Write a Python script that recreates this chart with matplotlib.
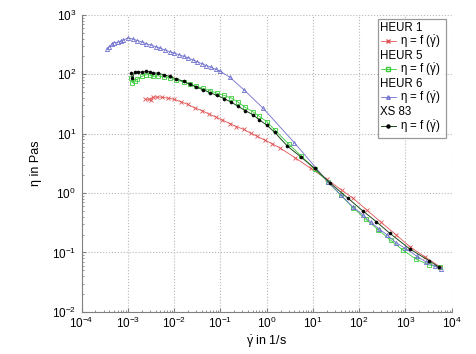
import matplotlib
matplotlib.use('Agg')
import matplotlib.pyplot as plt
from matplotlib.lines import Line2D
from matplotlib.ticker import LogLocator, NullFormatter

plt.rcParams['font.family'] = ['Liberation Sans', 'DejaVu Sans']
plt.rcParams['mathtext.fontset'] = 'custom'
plt.rcParams['mathtext.rm'] = 'Liberation Sans'
plt.rcParams['mathtext.it'] = 'Liberation Sans'
plt.rcParams['mathtext.default'] = 'regular'

# HEUR 1
x_heur1 = [0.0024, 0.0028, 0.0031, 0.0035, 0.0042, 0.0055, 0.0075, 0.01, 0.014, 0.02,
           0.028, 0.04, 0.056, 0.08, 0.11, 0.16, 0.22, 0.32, 0.45, 0.63, 0.9, 1.3, 1.9,
           4.2, 9, 20, 42, 72, 150, 300, 620, 1230, 2600, 5500]
y_heur1 = [38, 38, 37.5, 41, 41.5, 41, 39.5, 38, 34.5, 31, 27, 24.5, 21.5, 19, 17, 14.8,
           13.2, 11.8, 10.2, 9.0, 7.8, 6.8, 5.8, 3.9, 2.6, 1.7, 1.12, 0.83, 0.51, 0.32,
           0.2, 0.126, 0.085, 0.058]

# HEUR 5
x_heur5 = [0.0012, 0.00125, 0.0014, 0.0016, 0.002, 0.0025, 0.003, 0.0035, 0.0045, 0.006,
           0.008, 0.011, 0.016, 0.022, 0.03, 0.042, 0.06, 0.085, 0.12, 0.17, 0.24, 0.34,
           0.5, 0.7, 1.0, 1.5, 3.0, 5.6, 11, 21, 40, 75, 140, 260, 480, 900, 1700, 3200,
           5500]
y_heur5 = [88, 72, 78, 82, 92, 98, 97, 92, 94, 90, 86, 80, 74, 68, 63, 58, 53, 48, 44,
           40, 34, 28, 23.5, 19.5, 16, 11.5, 6.7, 4.2, 2.5, 1.55, 0.92, 0.56, 0.36, 0.24,
           0.16, 0.108, 0.077, 0.062, 0.056]

# HEUR 6
x_heur6 = [0.00035, 0.0004, 0.00045, 0.0005, 0.0006, 0.0007, 0.0008, 0.001, 0.0013,
           0.0016, 0.002, 0.0025, 0.0032, 0.004, 0.005, 0.0063, 0.008, 0.01, 0.013, 0.016,
           0.02, 0.025, 0.032, 0.04, 0.05, 0.063, 0.08, 0.1, 0.16, 0.33, 0.83, 4.0, 21,
           40, 72, 120, 180, 270, 390, 630, 1000, 1740, 2800, 4300, 5750]
y_heur6 = [265, 290, 320, 340, 345, 360, 375, 410, 390, 370, 350, 325, 310, 290, 275, 257,
           240, 228, 212, 200, 190, 175, 162, 150, 140, 131, 121, 112, 89, 54, 27, 7.0,
           1.55, 0.93, 0.59, 0.43, 0.32, 0.25, 0.2, 0.145, 0.117, 0.087, 0.069, 0.059,
           0.052]

# XS 83
x_xs83 = [0.0012, 0.00125, 0.0014, 0.0017, 0.002, 0.0025, 0.003, 0.0035, 0.0045, 0.006,
          0.008, 0.011, 0.016, 0.022, 0.03, 0.042, 0.06, 0.085, 0.12, 0.17, 0.24, 0.34,
          0.5, 0.7, 1.0, 1.5, 2.8, 5.6, 11, 23, 56, 120, 235, 460, 1230, 3300, 5250]
y_xs83 = [105, 85, 108, 110, 108, 112, 110, 106, 104, 98, 92, 84, 76, 68, 61, 55, 49,
          44, 39, 34, 29, 24.5, 21, 17, 14, 10.5, 6.2, 4.0, 2.6, 1.5, 0.83, 0.5, 0.33,
          0.21, 0.115, 0.072, 0.057]

red, green, blue, dark = '#e05555', '#3ccc3c', '#6f6fcf', '#1f4a1f'

fig = plt.figure(figsize=(4.77, 3.54), dpi=100)
ax = fig.add_axes([0.171, 0.119, 0.776, 0.839])

ax.plot(x_heur1, y_heur1, color=red, lw=0.6, marker='x', ms=2.5, mew=0.6)
ax.plot(x_heur5, y_heur5, color=green, lw=0.6, marker='s', ms=3, mew=0.6, mfc='none')
ax.plot(x_heur6, y_heur6, color=blue, lw=0.6, marker='^', ms=3, mew=0.6, mfc='none')
ax.plot(x_xs83, y_xs83, color=dark, lw=0.7, marker='o', ms=2.2, mew=0.4,
        mfc='black', mec='black')

ax.set_xscale('log')
ax.set_yscale('log')
ax.set_xlim(1e-4, 1e4)
ax.set_ylim(1e-2, 1e3)
ax.xaxis.set_major_locator(LogLocator(base=10, numticks=20))
ax.yaxis.set_major_locator(LogLocator(base=10, numticks=20))
ax.xaxis.set_minor_locator(LogLocator(base=10, subs=range(2, 10), numticks=20))
ax.yaxis.set_minor_locator(LogLocator(base=10, subs=range(2, 10), numticks=20))
ax.xaxis.set_minor_formatter(NullFormatter())
ax.yaxis.set_minor_formatter(NullFormatter())

ax.grid(True, which='major', color='#b8b8b8', ls=':', lw=0.8)
for s in ['top', 'right']:
    ax.spines[s].set_visible(False)
for s in ['left', 'bottom']:
    ax.spines[s].set_color('#808080')
ax.tick_params(which='both', direction='in', colors='#808080', labelcolor='black',
               labelsize=8.5)
ax.tick_params(axis='x', pad=3)
ax.tick_params(axis='y', pad=4)
ax.tick_params(which='major', length=3)
ax.tick_params(which='minor', length=1.5)

ax.set_xlabel('$\\dot{\\gamma}$ in 1/s', fontsize=9, labelpad=2)
ax.set_ylabel('η in Pas', fontsize=9, labelpad=7)

lbl = 'η = f ($\\dot{\\gamma}$)'
blank = Line2D([], [], color='none')
handles = [
    blank, Line2D([], [], color=red, lw=0.6, marker='x', ms=2.5),
    blank, Line2D([], [], color=green, lw=0.6, marker='s', ms=2.5, mfc='none'),
    blank, Line2D([], [], color=blue, lw=0.6, marker='^', ms=2.5, mfc='none'),
    blank, Line2D([], [], color=dark, lw=0.7, marker='o', ms=2.2, mfc='black',
                  mec='black'),
]
labels = ['HEUR 1', lbl, 'HEUR 5', lbl, 'HEUR 6', lbl, 'XS 83', lbl]
leg = ax.legend(handles, labels, loc='upper right', bbox_to_anchor=(0.99, 0.995),
                fontsize=8.3, frameon=True, fancybox=False, edgecolor='#808080',
                handlelength=1.3, handletextpad=0.4, labelspacing=0.0,
                borderpad=0.25, borderaxespad=0.2)
leg.get_frame().set_linewidth(0.9)
# title rows: shift text left over the empty handle
for i, t in enumerate(leg.get_texts()):
    if i % 2 == 0:
        t.set_position((-20, 0))

fig.savefig('out.png', dpi=100)
